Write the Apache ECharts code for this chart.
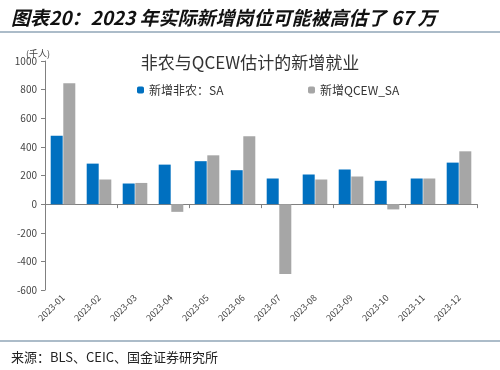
<!DOCTYPE html>
<html><head><meta charset="utf-8">
<script src="https://cdn.jsdelivr.net/npm/echarts@6/dist/echarts.min.js"></script>
<style>
html,body{margin:0;padding:0;background:#fff;}
#c{width:500px;height:370px;}
</style></head>
<body><div id="c"></div>
<script>
var categories = ['2023-01','2023-02','2023-03','2023-04','2023-05','2023-06','2023-07','2023-08','2023-09','2023-10','2023-11','2023-12'];
var nfpSA = [478, 283, 144, 276, 300, 237, 179, 207, 242, 163, 179, 290];
var qcewSA = [845, 172, 148, -54, 341, 474, -488, 172, 193, -37, 179, 369];
var yTicks = [-600, -400, -200, 0, 200, 400, 600, 800, 1000];

var font = '"Noto Sans CJK SC", "Noto Sans", sans-serif';
var chart = echarts.init(document.getElementById('c'), null, {renderer:'canvas'});
chart.setOption({
  backgroundColor:'#fff',
  animation:false,
  textStyle:{fontFamily:font},
  title:[{
    text:'图表20：2023 年实际新增岗位可能被高估了 67 万',
    left:6, top:3,
    textStyle:{fontSize:19, fontWeight:'bold', fontStyle:'italic', color:'#111', fontFamily:font}
  },{
    text:'非农与QCEW估计的新增就业',
    left:'center', top:49,
    textStyle:{fontSize:17, fontWeight:'normal', color:'#333', fontFamily:font}
  },{
    text:'来源：BLS、CEIC、国金证券研究所',
    left:6, top:346,
    textStyle:{fontSize:13, fontWeight:'normal', color:'#222', fontFamily:font}
  },{
    text:'(千人)',
    left:21, top:44,
    textStyle:{fontSize:9, fontWeight:'normal', color:'#444', fontFamily:font}
  }],
  graphic:[
    {type:'line', shape:{x1:0,y1:32,x2:500,y2:32}, style:{stroke:'#5a7a94', lineWidth:1.2}},
    {type:'line', shape:{x1:0,y1:341,x2:500,y2:341}, style:{stroke:'#5a7a94', lineWidth:1.2}}
  ],
  legend:[{
    data:['新增非农：SA'], left:132, top:79,
    itemWidth:7, itemHeight:7, itemGap:4,
    textStyle:{fontSize:12, color:'#333', fontFamily:font}
  },{
    data:['新增QCEW_SA'], left:303, top:79,
    itemWidth:7, itemHeight:7, itemGap:4,
    textStyle:{fontSize:12, color:'#333', fontFamily:font}
  }],
  grid:{left:45, right:23, top:61, bottom:80, containLabel:false, outerBoundsMode:'none'},
  xAxis:[{
    type:'category', data:categories,
    axisLine:{onZero:true, lineStyle:{color:'#808080', width:1}},
    axisTick:{show:true, alignWithLabel:false, length:4, lineStyle:{color:'#808080'}},
    axisLabel:{show:false}
  },{
    type:'category', data:categories, position:'bottom',
    axisLine:{show:false, onZero:false},
    axisTick:{show:false},
    axisLabel:{rotate:45, fontSize:9, color:'#444', margin:6, interval:0}
  }],
  yAxis:{
    type:'value', min:-600, max:1000, interval:200,
    axisLine:{show:true, lineStyle:{color:'#808080'}},
    axisTick:{show:true, length:4, lineStyle:{color:'#808080'}},
    splitLine:{show:false},
    axisLabel:{fontSize:10, color:'#444', margin:8,
      formatter:function(v){ return yTicks.indexOf(v) >= 0 ? String(v) : ''; }}
  },
  series:[{
    name:'新增非农：SA', type:'bar', data:nfpSA, xAxisIndex:0,
    itemStyle:{color:'#0070c0'}, barWidth:12, barGap:'5%'
  },{
    name:'新增QCEW_SA', type:'bar', data:qcewSA, xAxisIndex:0,
    itemStyle:{color:'#a6a6a6'}, barWidth:12, barGap:'5%'
  }]
});
</script></body></html>
